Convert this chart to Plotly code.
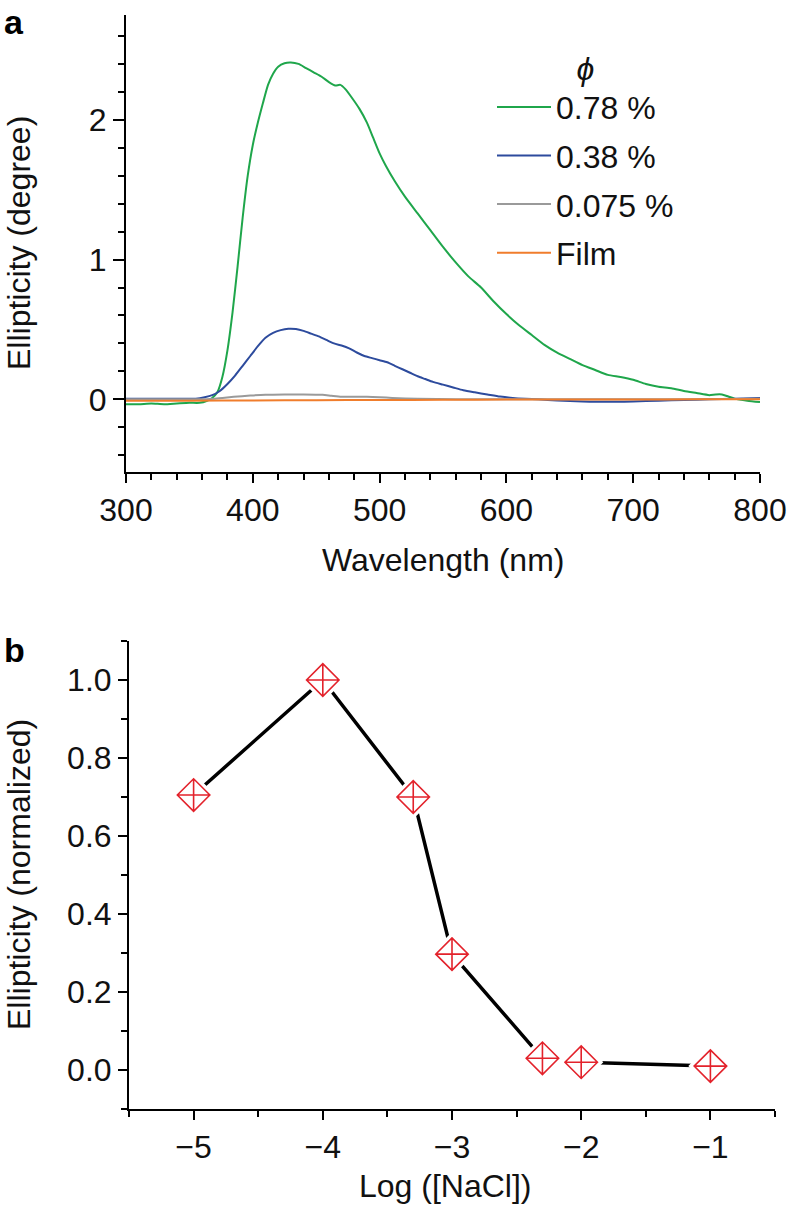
import plotly.graph_objects as go

# ---------------- Panel a data ----------------
wl_green = [300, 310, 320, 330, 340, 350, 358, 364, 368, 372, 376, 380, 384, 388, 392, 396, 400, 404, 408,
            412, 416, 420, 425, 430, 436, 442, 448, 454, 460, 465, 469, 473, 478, 484, 490, 495, 500, 505,
            512, 520, 530, 540, 550, 560, 570, 580, 590, 600, 610, 620, 630, 640, 650, 660, 670, 680, 690,
            700, 710, 720, 730, 740, 750, 760, 765, 770, 775, 780, 790, 800]
ell_green = [-0.035, -0.035, -0.03, -0.035, -0.03, -0.025, -0.025, -0.01, 0.01, 0.05, 0.16, 0.35, 0.62, 0.95,
             1.3, 1.6, 1.82, 1.98, 2.12, 2.25, 2.33, 2.38, 2.405, 2.41, 2.40, 2.37, 2.34, 2.31, 2.27, 2.245,
             2.25, 2.22, 2.16, 2.08, 1.98, 1.87, 1.76, 1.67, 1.56, 1.45, 1.33, 1.21, 1.09, 0.98, 0.88, 0.80,
             0.70, 0.61, 0.53, 0.46, 0.39, 0.335, 0.29, 0.245, 0.21, 0.175, 0.16, 0.14, 0.11, 0.09, 0.08,
             0.06, 0.045, 0.03, 0.035, 0.035, 0.02, 0.005, -0.01, -0.02]

wl_blue = [300, 320, 340, 355, 362, 368, 374, 380, 386, 392, 398, 404, 410, 416, 422, 428, 434, 440, 446, 452,
           458, 464, 470, 476, 482, 488, 494, 500, 506, 512, 518, 524, 530, 536, 542, 550, 558, 566, 575, 585,
           595, 605, 615, 625, 640, 660, 680, 700, 720, 740, 760, 780, 800]
ell_blue = [0.005, 0.005, 0.005, 0.005, 0.015, 0.03, 0.06, 0.11, 0.17, 0.24, 0.31, 0.38, 0.44, 0.475, 0.495,
            0.505, 0.503, 0.49, 0.47, 0.45, 0.425, 0.40, 0.385, 0.365, 0.335, 0.31, 0.295, 0.28, 0.265, 0.24,
            0.215, 0.19, 0.165, 0.145, 0.125, 0.105, 0.085, 0.065, 0.05, 0.035, 0.02, 0.01, 0.004, 0.0,
            -0.008, -0.015, -0.018, -0.015, -0.01, -0.005, 0.0, 0.005, 0.01]

wl_gray = [300, 330, 355, 370, 385, 398, 410, 425, 440, 455, 462, 470, 490, 500, 510, 530, 560, 600, 650, 700,
           750, 800]
ell_gray = [0.0, 0.0, 0.0, 0.005, 0.018, 0.027, 0.033, 0.035, 0.035, 0.032, 0.025, 0.018, 0.018, 0.015, 0.01,
            0.004, 0.0, 0.0, 0.0, 0.0, 0.0, 0.005]

wl_film = [300, 350, 400, 450, 500, 550, 600, 650, 700, 750, 800]
ell_film = [-0.01, -0.01, -0.008, -0.006, -0.005, -0.003, -0.002, -0.002, -0.001, 0.0, 0.0]

series_names = ["0.78 %", "0.38 %", "0.075 %", "Film"]
series_colors = ["#1fa64b", "#2d4b9d", "#9a9a9a", "#f07d2c"]

# ---------------- Panel b data ----------------
log_nacl = [-5, -4, -3.3, -3, -2.3, -2, -1]
ell_norm = [0.705, 1.0, 0.70, 0.297, 0.03, 0.02, 0.01]

W, H = 788, 1213
FONT = "Liberation Sans, Arial, Helvetica, sans-serif"
FS = 32

fig = go.Figure()

for wl, ell, name, col in zip([wl_green, wl_blue, wl_gray, wl_film],
                              [ell_green, ell_blue, ell_gray, ell_film],
                              series_names, series_colors):
    fig.add_trace(go.Scatter(x=wl, y=ell, mode="lines", name=name, legendgroup=name,
                             line=dict(color=col, width=2, shape="spline", smoothing=0.6),
                             xaxis="x", yaxis="y"))

fig.add_trace(go.Scatter(x=log_nacl, y=ell_norm, mode="lines", showlegend=False,
                         line=dict(color="black", width=3.5), xaxis="x2", yaxis="y2"))
fig.add_trace(go.Scatter(x=log_nacl, y=ell_norm, mode="markers", showlegend=False,
                         marker=dict(symbol="diamond", size=34, color="white", line=dict(width=0)),
                         xaxis="x2", yaxis="y2"))
fig.add_trace(go.Scatter(x=log_nacl, y=ell_norm, mode="markers", showlegend=False,
                         marker=dict(symbol="diamond-cross-open", size=25, color="#e3222b",
                                     line=dict(width=1.6, color="#e3222b")),
                         xaxis="x2", yaxis="y2"))

def px_x(p):
    return p / W

def px_y(p):
    return 1 - p / H

axis_common = dict(showline=True, linecolor="black", linewidth=2, ticks="outside", tickcolor="black",
                   tickwidth=2, showgrid=False, zeroline=False, automargin=False,
                   tickfont=dict(family=FONT, size=FS, color="#111"))

fig.update_layout(
    width=W, height=H,
    margin=dict(l=0, r=0, t=0, b=0),
    paper_bgcolor="white", plot_bgcolor="white",
    font=dict(family=FONT, size=FS, color="#111"),
    showlegend=True,
    legend=dict(x=px_x(492), y=px_y(38), xanchor="left", yanchor="top",
                bgcolor="rgba(0,0,0,0)", tracegroupgap=4, itemwidth=54,
                font=dict(family=FONT, size=FS, color="#111"),
                title=dict(text="<i>ϕ</i>", side="top center", font=dict(family=FONT, size=FS))),
    xaxis=dict(domain=[px_x(126), px_x(760)], range=[300, 800], tick0=300, dtick=100, ticklen=9,
               minor=dict(dtick=20, ticklen=6, ticks="outside", tickcolor="black", tickwidth=2),
               anchor="y", **axis_common),
    yaxis=dict(domain=[px_y(472), px_y(15)], range=[-0.52, 2.75], tickvals=[0, 1, 2], ticklen=11,
               minor=dict(tick0=0, dtick=0.2, ticklen=6, ticks="outside", tickcolor="black", tickwidth=2),
               anchor="x", **axis_common),
    xaxis2=dict(domain=[px_x(129), px_x(775)], range=[-5.5, -0.5], tick0=-5, dtick=1, ticklen=9,
                minor=dict(tick0=-5.5, dtick=0.5, ticklen=6, ticks="outside", tickcolor="black", tickwidth=2),
                anchor="y2", **axis_common),
    yaxis2=dict(domain=[px_y(1109), px_y(641)], range=[-0.1, 1.1], tick0=0, dtick=0.2, tickformat=".1f",
                ticklen=9,
                minor=dict(tick0=-0.1, dtick=0.1, ticklen=6, ticks="outside", tickcolor="black", tickwidth=2),
                anchor="x2", **axis_common),
)

annos = [
    dict(text="<b>a</b>", x=px_x(14), y=px_y(22), font=dict(size=34, family=FONT, color="black")),
    dict(text="<b>b</b>", x=px_x(14), y=px_y(650), font=dict(size=34, family=FONT, color="black")),
    dict(text="Wavelength (nm)", x=px_x(443), y=px_y(560)),
    dict(text="Ellipticity (degree)", x=px_x(19), y=px_y(243), textangle=-90),
    dict(text="Log ([NaCl])", x=px_x(445), y=px_y(1186)),
    dict(text="Ellipticity (normalized)", x=px_x(19), y=px_y(875), textangle=-90),
]
for a in annos:
    a.setdefault("font", dict(size=FS, family=FONT, color="#111"))
    fig.add_annotation(xref="paper", yref="paper", xanchor="center", yanchor="middle",
                       showarrow=False, **a)

fig.write_html("out.html", config={"displayModeBar": False},
               post_script="document.body.style.margin='0px';document.body.style.overflow='hidden';")
